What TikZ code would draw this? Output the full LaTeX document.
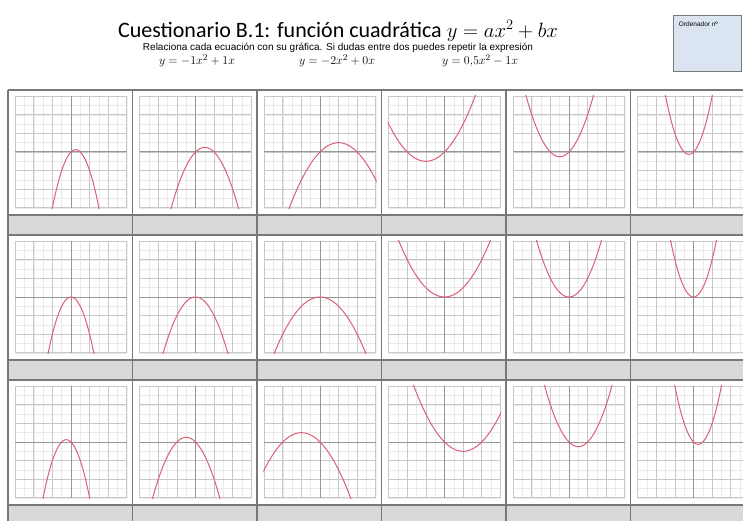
\documentclass[tikz,border=0pt]{standalone}
\usepackage{fontspec}
\newfontfamily\titlefont{Carlito}
\newfontfamily\arialfont{Liberation Sans}
\usepackage{xcolor}
\usepackage{tikz}
\usetikzlibrary{positioning}

\definecolor{tabline}{RGB}{120,120,120}
\definecolor{bandgray}{RGB}{217,217,217}
\definecolor{gridmaj}{RGB}{200,200,200}
\definecolor{gridmin}{RGB}{234,234,234}
\definecolor{axisgray}{RGB}{150,150,150}
\definecolor{curvered}{RGB}{220,95,118}
\definecolor{boxblue}{RGB}{219,229,242}

\begin{document}
\begin{tikzpicture}[
  x=1pt, y=-1pt,
  title/.style={font=\titlefont\fontsize{22}{24}\selectfont, anchor=base, inner sep=0pt},
  instr/.style={font=\arialfont\fontsize{10}{11}\selectfont, anchor=base, inner sep=0pt},
  eqn/.style={font=\fontsize{12.5}{14}\selectfont, anchor=base, inner sep=0pt},
  ordbox/.style={draw=tabline, line width=1.5pt, fill=boxblue,
                 minimum width=68pt, minimum height=56pt, inner sep=0pt},
  ordtxt/.style={font=\arialfont\fontsize{6.5}{7}\selectfont, anchor=west, inner sep=0pt},
  band/.style={fill=bandgray},
  tab/.style={draw=tabline, line width=1.4pt},
  gridmin/.style={draw=gridmin, line width=0.5pt},
  gridmaj/.style={draw=gridmaj, line width=0.8pt},
  axis/.style={draw=axisgray, line width=1pt},
  curve/.style={draw=curvered, line width=1pt},
]
\useasboundingbox (0,0) rectangle (743,521);
\clip (0,0) rectangle (743,521);

% header
\node[title] (title) at (338,37.5) {Cuestionario B.1: función cuadrática $y=ax^2+bx$};
\node[instr] (instr) at (338,51) {Relaciona cada ecuación con su gráfica. Si dudas entre dos puedes repetir la expresión};
\node[eqn] (eqA) at (197,65) {$y=-1x^2+1x$};
\node[eqn] (eqB) at (337,65) {$y=-2x^2+0x$};
\node[eqn] (eqC) at (480,65) {$y=0{,}5x^2-1x$};

% ordenador box
\node[ordbox] (ordbox) at (707.5,43.5) {};
\node[ordtxt] (ordlab) at ([xshift=6pt,yshift=-9pt]ordbox.north west) {Ordenador nº};

% grey bands under each row
\foreach \r in {0,1,2}
  \fill[band] (8,{90+145*\r+125}) rectangle (760,{90+145*\r+145});

% graphs: rows b = 1, 0, -1 ; columns a = -2 ... 2
\foreach \b [count=\r from 0] in {1,0,-1}{
  \foreach \a [count=\c from 0] in {-2,-1,-0.5,0.5,1,2}{
    \pgfmathsetmacro\cx{8+124.5*\c+63}
    \pgfmathsetmacro\cy{90+145*\r+62}
    \begin{scope}[shift={(\cx,\cy)}, x=18.6pt, y=18.6pt]
      \clip (-3.05,-3.05) rectangle (3.05,3.05);
      \draw[gridmin] (-3,-3) grid[step=0.5] (3,3);
      \draw[gridmaj] (-3,-3) grid[step=1] (3,3);
      \draw[axis] (-3,0) -- (3,0) (0,-3) -- (0,3);
      \draw[curve] plot[domain=-3.2:3.2, samples=80, smooth]
        (\x, {(\a)*(\x)*(\x)+(\b)*(\x)});
    \end{scope}
  }
}

% table lines
\foreach \r in {0,1,2}{
  \draw[tab] (8,{90+145*\r}) -- (760,{90+145*\r});
  \draw[tab] (8,{90+145*\r+125}) -- (760,{90+145*\r+125});
  \draw[tab] (8,{90+145*\r+145}) -- (760,{90+145*\r+145});
}
\foreach \c in {0,...,6}
  \draw[tab] ({8+124.5*\c},90) -- ({8+124.5*\c},530);
\end{tikzpicture}
\end{document}
